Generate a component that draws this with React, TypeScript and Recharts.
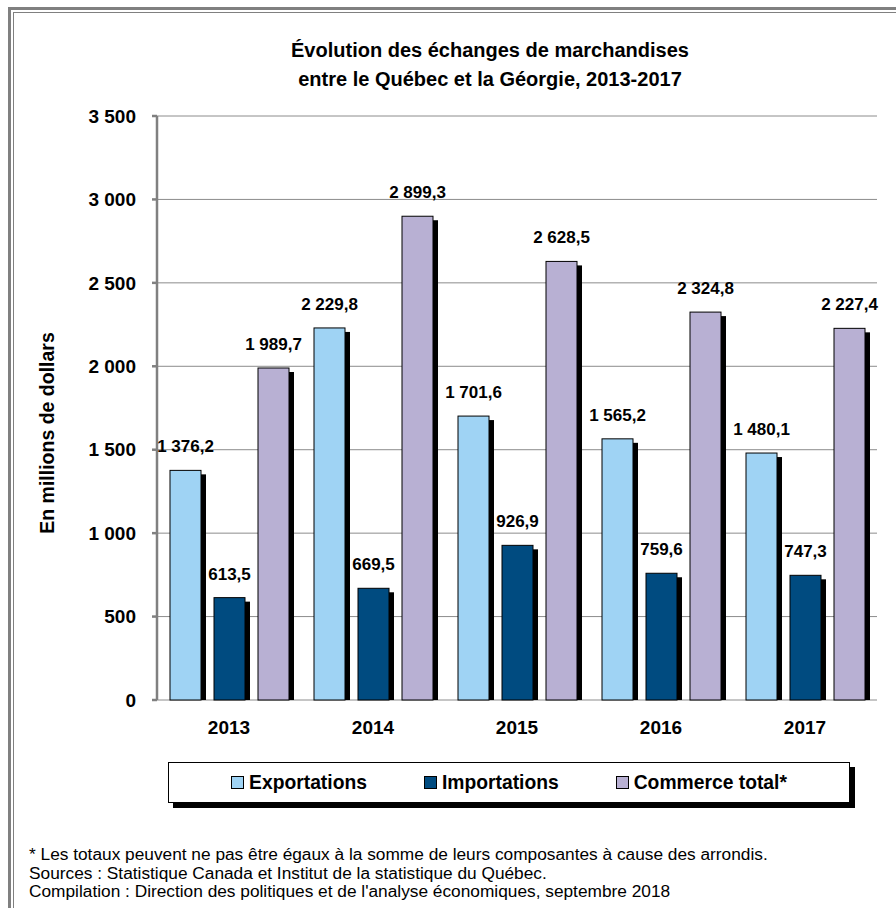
import React from 'react'
import {
  BarChart,
  Bar,
  XAxis,
  YAxis,
  CartesianGrid,
  LabelList,
} from 'recharts'

const years = ['2013', '2014', '2015', '2016', '2017']
const exportations = [1376.2, 2229.8, 1701.6, 1565.2, 1480.1]
const importations = [613.5, 669.5, 926.9, 759.6, 747.3]
const commerceTotal = [1989.7, 2899.3, 2628.5, 2324.8, 2227.4]
const yTicks = [0, 500, 1000, 1500, 2000, 2500, 3000, 3500]

const series = [
  { key: 'exportations', name: 'Exportations', color: '#9fd3f4' },
  { key: 'importations', name: 'Importations', color: '#004b80' },
  { key: 'total', name: 'Commerce total*', color: '#b8b0d3' },
]

const data = years.map((year, i) => ({
  year,
  exportations: exportations[i],
  importations: importations[i],
  total: commerceTotal[i],
}))

const font = '"Liberation Sans", Arial, sans-serif'

// non-breaking space so Recharts does not wrap the labels
const groupThousands = (s: string) => s.replace(/\B(?=(\d{3})+(?!\d))/g, '\u00A0')
const fmtTick = (v: number) => groupThousands(String(v))
const fmtValue = (v: number) => {
  const [i, d] = v.toFixed(1).split('.')
  return groupThousands(i) + ',' + d
}

// bar with a black drop shadow, like the Excel original
const ShadowBar = (props: any) => {
  const { x, y, width, height, fill } = props
  if (!height || height <= 0) return null
  return (
    <g>
      <rect x={x + 5} y={y + 4} width={width} height={height - 4} fill="#000" />
      <rect x={x} y={y} width={width} height={height} fill={fill} stroke="#000" strokeWidth={1} />
    </g>
  )
}

const YLabel = () => (
  <text
    x={47}
    y={433}
    transform="rotate(-90 47 433)"
    textAnchor="middle"
    dominantBaseline="central"
    fontFamily={font}
    fontWeight="bold"
    fontSize={19.5}
    fill="#000"
  >
    En millions de dollars
  </text>
)

export default function App() {
  return (
    <div
      style={{
        position: 'fixed',
        left: 0,
        top: 0,
        width: 896,
        height: 908,
        overflow: 'hidden',
        background: '#fff',
        fontFamily: font,
      }}
    >
      {/* double gray frame */}
      <div style={{ position: 'absolute', left: 8, top: 7, width: 1000, height: 1000, borderLeft: '3px solid #808080', borderTop: '3px solid #808080' }} />
      <div style={{ position: 'absolute', left: 13, top: 12, width: 1000, height: 1000, borderLeft: '1px solid #808080', borderTop: '1px solid #808080' }} />

      <div
        style={{
          position: 'absolute',
          left: 190,
          width: 600,
          top: 36,
          textAlign: 'center',
          fontWeight: 'bold',
          fontSize: 20,
          lineHeight: '29px',
          color: '#000',
        }}
      >
        Évolution des échanges de marchandises
        <br />
        entre le Québec et la Géorgie, 2013-2017
      </div>

      <div style={{ position: 'absolute', left: 0, top: 0 }}>
        <BarChart
          width={896}
          height={908}
          data={data}
          margin={{ top: 116, right: 19, bottom: 168, left: 0 }}
          barSize={31}
          barGap={13}
        >
          <CartesianGrid vertical={false} stroke="#8c8c8c" strokeWidth={1} />
          <XAxis xAxisId="edges" type="number" domain={[0, 5]} ticks={[0, 1, 2, 3, 4, 5]} height={0} tickFormatter={() => ''} axisLine={{ stroke: '#808080', strokeWidth: 2.5 }} tickLine={{ stroke: '#808080', strokeWidth: 2.5 }} tickSize={6} />
          <XAxis
            dataKey="year"
            height={40}
            axisLine={false}
            tickLine={false}
            tickSize={0}
            tickMargin={21}
            tick={{ fill: '#000', fontFamily: font, fontWeight: 'bold', fontSize: 19 }}
          />
          <YAxis
            width={157}
            domain={[0, 3500]}
            ticks={yTicks}
            tickFormatter={fmtTick}
            axisLine={{ stroke: '#808080', strokeWidth: 2.5 }}
            tickLine={{ stroke: '#808080', strokeWidth: 2.5 }}
            tickSize={5}
            tickMargin={16}
            tick={{ fill: '#000', fontFamily: font, fontWeight: 'bold', fontSize: 19 }}
            label={<YLabel />}
          />
          <YAxis yAxisId="right" orientation="right" width={0} domain={[0, 3500]} tick={false} tickLine={false} axisLine={{ stroke: '#808080', strokeWidth: 1.5 }} />
          {series.map((s) => (
            <Bar key={s.key} dataKey={s.key} name={s.name} fill={s.color} shape={<ShadowBar />} isAnimationActive={false}>
              <LabelList
                dataKey={s.key}
                position="top"
                offset={18}
                formatter={(v: any) => fmtValue(Number(v))}
                style={{ fill: '#000', fontFamily: font, fontWeight: 'bold', fontSize: 17 }}
              />
            </Bar>
          ))}
        </BarChart>
      </div>

      {/* legend */}
      <div
        style={{
          position: 'absolute',
          left: 168,
          top: 762,
          width: 680,
          height: 39,
          border: '1px solid #000',
          boxShadow: '5px 5px 0 #000',
          background: '#fff',
          display: 'flex',
          alignItems: 'center',
          justifyContent: 'center',
          gap: 57,
          fontWeight: 'bold',
          fontSize: 19.3,
          color: '#000',
        }}
      >
        {series.map((s) => (
          <div key={s.key} style={{ display: 'flex', alignItems: 'center' }}>
            <span style={{ display: 'inline-block', width: 11, height: 11, background: s.color, border: '1.5px solid #000', marginRight: 5 }} />
            <span>{s.name}</span>
          </div>
        ))}
      </div>

      {/* notes */}
      <div style={{ position: 'absolute', left: 29, top: 845, fontSize: 17.3, lineHeight: '18.5px', color: '#000', whiteSpace: 'nowrap' }}>
        <div>* Les totaux peuvent ne pas être égaux à la somme de leurs composantes à cause des arrondis.</div>
        <div>Sources : Statistique Canada et Institut de la statistique du Québec.</div>
        <div>Compilation : Direction des politiques et de l'analyse économiques, septembre 2018</div>
      </div>
    </div>
  )
}
